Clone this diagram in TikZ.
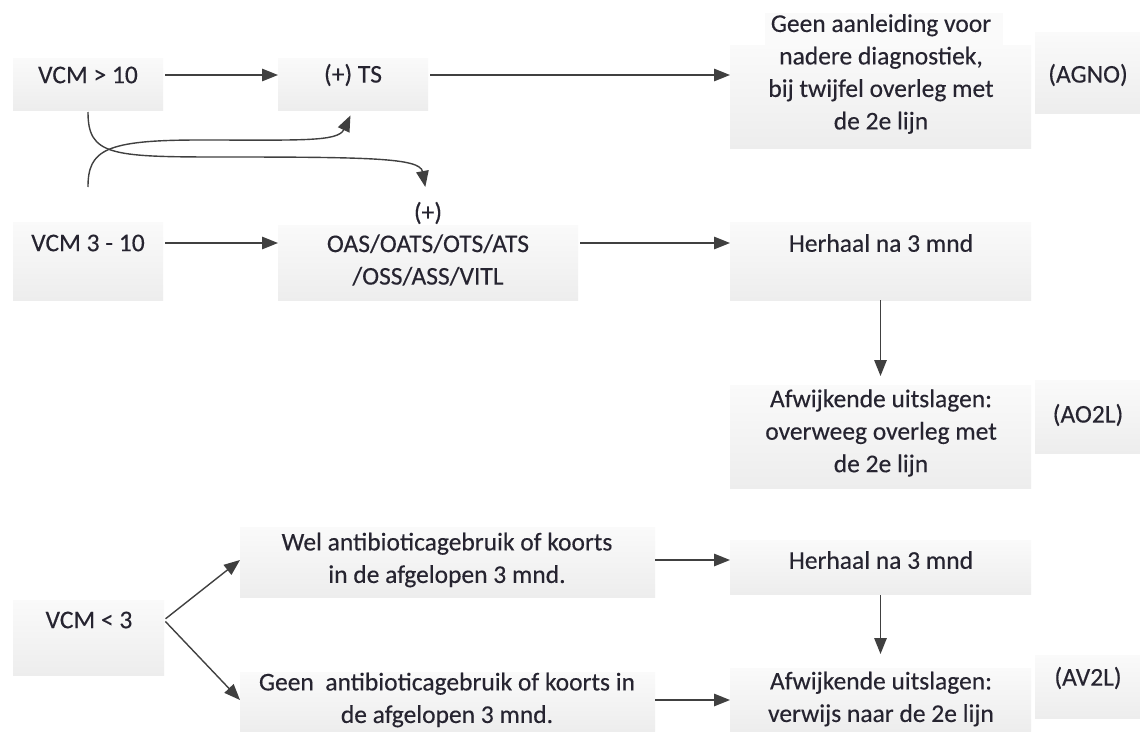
\documentclass[tikz,border=0pt]{standalone}
\usepackage{fontspec}
\setmainfont{Carlito}[FakeBold=0.3]
\usetikzlibrary{arrows.meta,fit}
\definecolor{boxtop}{RGB}{250,250,250}
\definecolor{boxbot}{RGB}{237,237,237}
\definecolor{arrowc}{RGB}{64,64,64}
\definecolor{txtc}{RGB}{38,36,48}
\begin{document}
\begin{tikzpicture}[x=1pt,y=-1pt,
  box/.style={inner sep=0pt, outer sep=0pt, draw=none, top color=boxtop, bottom color=boxbot},
  patch/.style={inner sep=0pt, outer sep=0pt, draw=none, fill=boxtop},
  txt/.style={text=txtc, font=\fontsize{25.5}{32.5}\selectfont, align=center, inner sep=0pt},
  arr/.style={draw=arrowc, line width=1.4pt, -{Triangle[length=16pt,width=12.5pt]}}]
\path[use as bounding box, fill=white] (0,0) rectangle (1140,731);
% boxes
\node[box, fit={(13,58)(163,110)}] (vcm10) {};
\node[box, fit={(278,58)(428,110)}] (ts) {};
\node[patch, fit={(765,13)(1003,47)}] (geentop) {};
\node[box, fit={(730,45)(1031,148)}] (geen) {};
\node[box, fit={(1035,32)(1140,113)}] (agno) {};
\node[box, fit={(13,222)(163,300)}] (vcm310) {};
\node[box, fit={(278,225)(578,300)}] (oas) {};
\node[box, fit={(730,222)(1031,300)}] (her1) {};
\node[box, fit={(730,385)(1031,488)}] (afw1) {};
\node[box, fit={(1035,380)(1140,453)}] (ao2l) {};
\node[box, fit={(13,600)(164,675)}] (vcm3) {};
\node[box, fit={(240,527)(655,597)}] (wel) {};
\node[box, fit={(240,672)(655,731)}] (geenab) {};
\node[box, fit={(730,540)(1031,594)}] (her2) {};
\node[box, fit={(730,668)(1031,731)}] (afw2) {};
\node[box, fit={(1035,655)(1140,718)}] (av2l) {};
% texts
\node[txt] (tvcm10) at (88,75) {VCM > 10};
\node[txt] (tts) at (353,75) {(+) TS};
\node[txt] (tgeen) at (881,74) {Geen aanleiding voor\\nadere diagnostiek,\\bij twijfel overleg met\\de 2e lijn};
\node[txt] (tagno) at (1088,75) {(AGNO)};
\node[txt] (tvcm310) at (88,243) {VCM 3 - 10};
\node[txt] (tplus) at (428,213) {(+)};
\node[txt] (toas) at (428,260) {OAS/OATS/OTS/ATS\\/OSS/ASS/VITL};
\node[txt] (ther1) at (881,243) {Herhaal na 3 mnd};
\node[txt] (tafw1) at (881,433) {Afwijkende uitslagen:\\overweeg overleg met\\de 2e lijn};
\node[txt] (tao2l) at (1088,415) {(AO2L)};
\node[txt] (tvcm3) at (89,620) {VCM < 3};
\node[txt] (twel) at (447,560) {Wel antibioticagebruik of koorts\\in de afgelopen 3 mnd.};
\node[txt] (tgeenab) at (447,700) {Geen\ \ antibioticagebruik of koorts in\\de afgelopen 3 mnd.};
\node[txt] (ther2) at (881,560) {Herhaal na 3 mnd};
\node[txt] (tafw2) at (881,699) {Afwijkende uitslagen:\\verwijs naar de 2e lijn};
\node[txt] (tav2l) at (1088,678) {(AV2L)};
% arrows
\draw[arr, shorten <=2pt] (vcm10.east |- tvcm10) -- (ts.west |- tvcm10);
\draw[arr, shorten <=2pt] (ts.east |- tvcm10) -- (geen.west |- tvcm10);
\draw[arr, shorten <=2pt] (vcm310.east |- tvcm310) -- (oas.west |- tvcm310);
\draw[arr, shorten <=2pt] (oas.east |- tvcm310) -- (her1.west |- tvcm310);
\draw[arr, shorten >=9pt] (her1.south) -- (afw1.north);
\draw[arr, shorten <=2pt] (vcm3.east |- tvcm3) -- (wel.west |- twel);
\draw[arr, shorten <=2pt] (vcm3.east |- tvcm3) -- (geenab.west |- tgeenab);
\draw[arr] (wel.east |- twel) -- (her2.west |- twel);
\draw[arr] (geenab.east |- tgeenab) -- (afw2.west |- tgeenab);
\draw[arr, shorten <=1pt, shorten >=14pt] (her2.south) -- (afw2.north);
% curved arrows
\draw[arr, shorten <=2pt, shorten >=15pt] (vcm10.south) .. controls (88,155) and (110,157) .. (220,157) .. controls (370,157) and (420,158) .. (tplus.north);
\draw[arr, shorten <=35pt, shorten >=6pt] (vcm310.north) .. controls (88,150) and (105,140) .. (200,140) .. controls (300,140) and (338,142) .. (ts.south);
\end{tikzpicture}
\end{document}
